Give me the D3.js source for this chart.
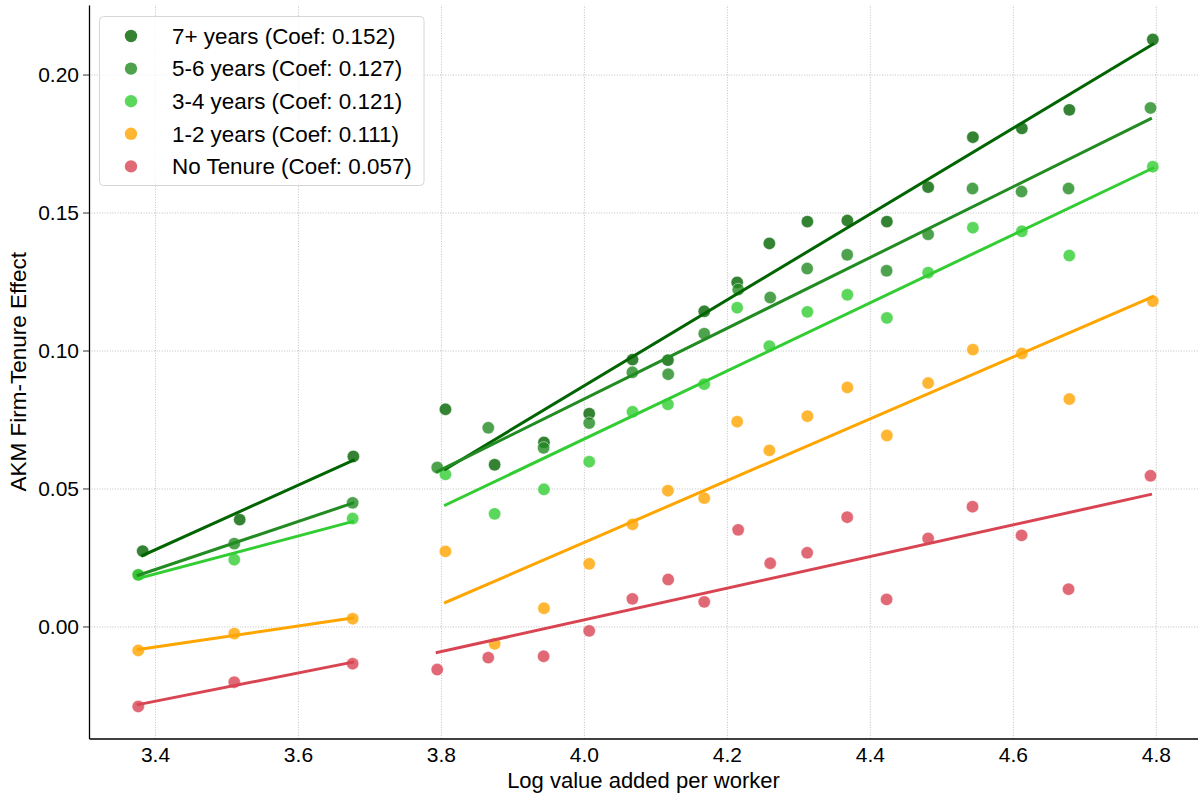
<!DOCTYPE html>
<html>
<head>
<meta charset="utf-8">
<script src="https://cdn.jsdelivr.net/npm/d3@7"></script>
<style>
  body { margin: 0; background: #fff; }
  svg text { font-family: "Liberation Sans", Arial, sans-serif; fill: #000; }
</style>
</head>
<body>
<svg id="chart" width="1198" height="797"></svg>
<script>
// groups (legend order) and the pooled coefficients shown in the legend
const groups = ["7+ years", "5-6 years", "3-4 years", "1-2 years", "No Tenure"]
const coefs = [0.152, 0.127, 0.121, 0.111, 0.057]
const lineColors = ["#006400", "#228B22", "#32CD32", "#FFA500", "#D94452"]

// bin positions (log value added per worker)
const xLowA = [3.3766, 3.5109, 3.6765]
const xLowDark = [3.3828, 3.5185, 3.6775]
const xHighA = [3.7948, 3.8662, 3.9436, 4.0074, 4.0678, 4.1179, 4.1683, 4.2158, 4.2606,
                4.3123, 4.3683, 4.4234, 4.4815, 4.5436, 4.6122, 4.6779, 4.7926]
const xHighB = [3.8063, 3.8751, 3.9441, 4.0074, 4.0680, 4.1175, 4.1683, 4.2144, 4.2594,
                4.3126, 4.3685, 4.4238, 4.4815, 4.5441, 4.6126, 4.6790, 4.7958]

// AKM firm-tenure effect per bin
const darkLow = [0.0273, 0.0387, 0.0616]
const darkHigh = [0.0787, 0.0586, 0.0667, 0.0771, 0.0967, 0.0965, 0.1142, 0.1247, 0.1388,
                  0.1467, 0.1471, 0.1467, 0.1592, 0.1773, 0.1805, 0.1872, 0.2127]
const midLow = [0.0187, 0.0300, 0.0448]
const midHigh = [0.0576, 0.0720, 0.0647, 0.0737, 0.0921, 0.0914, 0.1061, 0.1221, 0.1192,
                 0.1297, 0.1347, 0.1289, 0.1421, 0.1587, 0.1576, 0.1587, 0.1879]
const lightLow = [0.0187, 0.0242, 0.0391]
const lightHigh = [0.0551, 0.0408, 0.0497, 0.0597, 0.0778, 0.0805, 0.0878, 0.1155, 0.1016,
                   0.1140, 0.1202, 0.1118, 0.1282, 0.1445, 0.1432, 0.1344, 0.1666]
const orangeLow = [-0.0087, -0.0026, 0.0028]
const orangeHigh = [0.0272, -0.0063, 0.0066, 0.0227, 0.0370, 0.0492, 0.0465, 0.0742, 0.0638,
                    0.0762, 0.0866, 0.0692, 0.0882, 0.1003, 0.0989, 0.0824, 0.1179]
const redLow = [-0.0290, -0.0202, -0.0135]
const redHigh = [-0.0156, -0.0113, -0.0108, -0.0016, 0.0100, 0.0170, 0.0089, 0.0350, 0.0229,
                 0.0267, 0.0396, 0.0098, 0.0319, 0.0434, 0.0330, 0.0135, 0.0546]

const xTicks = [3.4, 3.6, 3.8, 4.0, 4.2, 4.4, 4.6, 4.8]
const yTicks = [0.00, 0.05, 0.10, 0.15, 0.20]

const zip = (xs, ys) => xs.map((x, i) => ({x: x, y: ys[i]}))
const series = [
  {low: zip(xLowDark, darkLow), high: zip(xHighB, darkHigh)},
  {low: zip(xLowA, midLow), high: zip(xHighA, midHigh)},
  {low: zip(xLowA, lightLow), high: zip(xHighB, lightHigh)},
  {low: zip(xLowA, orangeLow), high: zip(xHighB, orangeHigh)},
  {low: zip(xLowA, redLow), high: zip(xHighA, redHigh)}
].map((s, i) => Object.assign(s, {name: groups[i], coef: coefs[i], color: lineColors[i]}))

// least squares fit over one group of bins
function fit(pts) {
  const mx = d3.mean(pts, d => d.x), my = d3.mean(pts, d => d.y)
  const sxy = d3.sum(pts, d => (d.x - mx) * (d.y - my))
  const sxx = d3.sum(pts, d => (d.x - mx) * (d.x - mx))
  const b = sxy / sxx
  const [x0, x1] = d3.extent(pts, d => d.x)
  return [{x: x0, y: my + b * (x0 - mx)}, {x: x1, y: my + b * (x1 - mx)}]
}

const svg = d3.select('#chart')
const mLeft = 89, mBottom = 738.5, mTop = 5, mRight = 1198

const x = d3.scaleLinear().domain([3.3077, 4.8590]).range([mLeft, mRight])
const y = d3.scaleLinear().domain([-0.0406, 0.2252]).range([mBottom, mTop])

// grid
svg.append('g')
  .attr('transform', `translate(0,${mBottom})`)
  .call(d3.axisBottom(x).tickValues(xTicks).tickSize(-(mBottom - mTop)).tickFormat(''))
  .call(g => g.select('.domain').remove())
  .selectAll('line').attr('stroke', '#b0b0b0').attr('stroke-width', 0.8).attr('stroke-dasharray', '1,1.6')
svg.append('g')
  .attr('transform', `translate(${mLeft},0)`)
  .call(d3.axisLeft(y).tickValues(yTicks).tickSize(-(mRight - mLeft)).tickFormat(''))
  .call(g => g.select('.domain').remove())
  .selectAll('line').attr('stroke', '#b0b0b0').attr('stroke-width', 0.8).attr('stroke-dasharray', '1,1.6')

// points (all scatters below all lines)
series.forEach(s => {
  svg.append('g')
    .selectAll('circle')
    .data(s.low.concat(s.high))
    .join('circle')
      .attr('cx', d => x(d.x))
      .attr('cy', d => y(d.y))
      .attr('r', 6.2)
      .attr('fill', s.color)
      .attr('fill-opacity', 0.8)
      .attr('stroke', '#fff')
      .attr('stroke-width', 0.5)
})

// fitted lines, one per value-added group
const line = d3.line().x(d => x(d.x)).y(d => y(d.y))
series.forEach(s => {
  [s.low, s.high].forEach(pts => {
    svg.append('path')
      .attr('d', line(fit(pts)))
      .attr('fill', 'none')
      .attr('stroke', s.color)
      .attr('stroke-width', 3)
      .attr('stroke-linecap', 'square')
  })
})

// axes
const xAxis = svg.append('g')
  .attr('transform', `translate(0,${mBottom})`)
  .call(d3.axisBottom(x).tickValues(xTicks).tickSize(0).tickPadding(9).tickFormat(d3.format('.1f')))
xAxis.select('.domain').attr('stroke', '#000').attr('stroke-width', 1.3)
xAxis.selectAll('text').style('font-size', '21px')

const yAxis = svg.append('g')
  .attr('transform', `translate(${mLeft},0)`)
  .call(d3.axisLeft(y).tickValues(yTicks).tickSizeInner(6).tickSizeOuter(0).tickPadding(4).tickFormat(d3.format('.2f')))
yAxis.select('.domain').attr('stroke', '#000').attr('stroke-width', 1.3)
yAxis.selectAll('.tick line').attr('stroke', '#333').attr('stroke-width', 1)
yAxis.selectAll('text').style('font-size', '21px')

svg.append('text')
  .attr('x', (mLeft + mRight) / 2).attr('y', 788)
  .attr('text-anchor', 'middle')
  .style('font-size', '22px')
  .text('Log value added per worker')

svg.append('text')
  .attr('transform', `translate(26,${(mTop + mBottom) / 2}) rotate(-90)`)
  .attr('text-anchor', 'middle')
  .style('font-size', '22.5px')
  .text('AKM Firm-Tenure Effect')

// legend
const legend = svg.append('g')
legend.append('rect')
  .attr('x', 99.5).attr('y', 16.5).attr('width', 324.5).attr('height', 169)
  .attr('rx', 4)
  .attr('fill', '#fff').attr('fill-opacity', 0.8)
  .attr('stroke', '#d6d6d6').attr('stroke-width', 1)
const rows = legend.selectAll('.legend')
  .data(series)
  .join('g')
    .attr('class', 'legend')
    .attr('transform', (d, i) => `translate(0,${36 + i * 32.6})`)
rows.append('circle')
  .attr('cx', 131).attr('cy', 0).attr('r', 6.2)
  .attr('fill', d => d.color).attr('fill-opacity', 0.8)
rows.append('text')
  .attr('x', 172).attr('y', 0).attr('dy', '0.35em')
  .style('font-size', '22.4px')
  .text(d => `${d.name} (Coef: ${d.coef.toFixed(3)})`)
</script>
</body>
</html>
